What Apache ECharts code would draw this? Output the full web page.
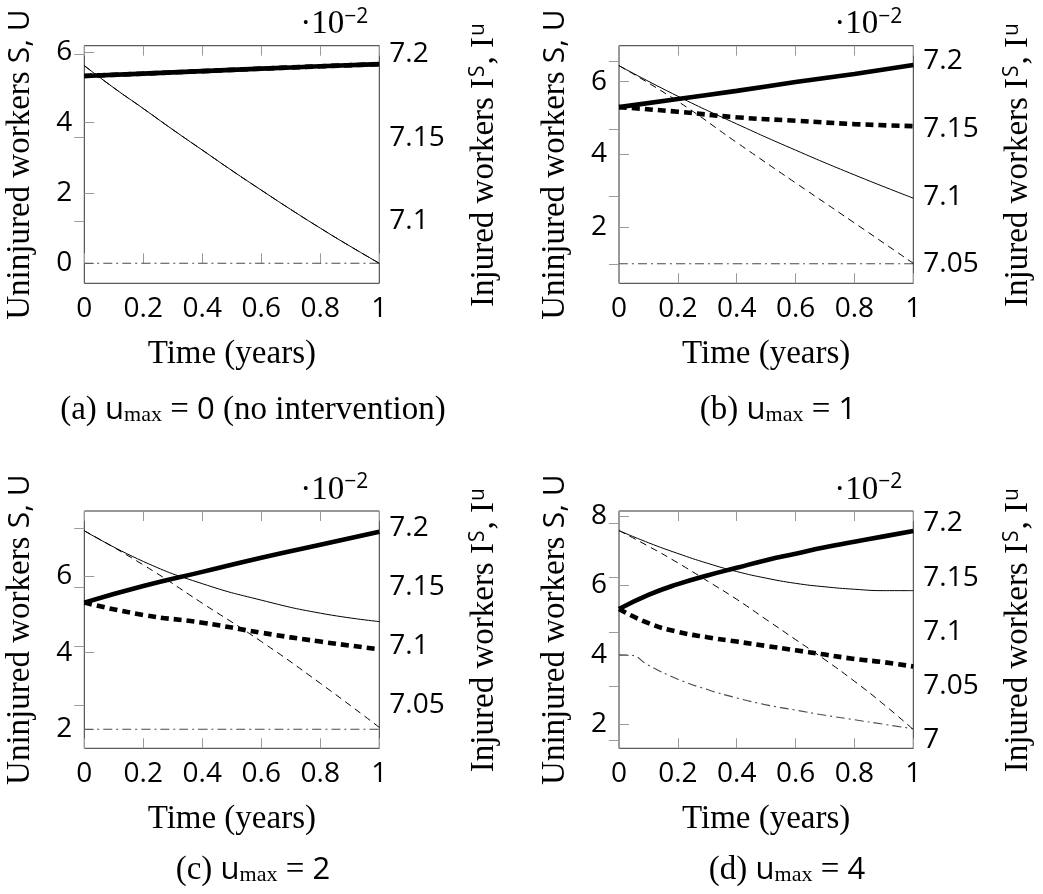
<!DOCTYPE html>
<html>
<head>
<meta charset="utf-8">
<script src="https://cdn.jsdelivr.net/npm/echarts@6/dist/echarts.min.js"></script>
<style>
html,body{margin:0;padding:0;background:#fff;}
#chart{width:1043px;height:894px;}
</style>
</head>
<body>
<div id="chart"></div>
<script>
// ---------- data ----------
const T6  = [0, 0.2, 0.4, 0.6, 0.8, 1];
const T11 = [0, 0.1, 0.2, 0.3, 0.4, 0.5, 0.6, 0.7, 0.8, 0.9, 1];
const TU_D = [0, 0.04, 0.1, 0.2, 0.3, 0.4, 0.5, 0.6, 0.7, 0.8, 0.9, 1];
const X_TICKS = [0, 0.2, 0.4, 0.6, 0.8, 1];

// (a) u_max = 0
const aS  = [5.62, 4.99, 4.40, 3.80, 3.22, 2.64, 2.08, 1.53, 1.00, 0.49, 0.00]; // T11
const aU  = [5.62, 4.99, 4.40, 3.80, 3.22, 2.64, 2.08, 1.53, 1.00, 0.49, 0.00]; // T11
const au  = [0, 0, 0, 0, 0, 0];                                                 // T6
const aIs = [7.1871, 7.1885, 7.1900, 7.1915, 7.1929, 7.1942];                   // T6
const aIu = [7.1871, 7.1885, 7.1900, 7.1915, 7.1929, 7.1942];                   // T6

// (b) u_max = 1
const bS  = [6.44, 5.60, 4.84, 4.12, 3.44, 2.80];
const bU  = [6.44, 5.46, 4.33, 3.22, 2.12, 1.01];
const bu  = [1, 1, 1, 1, 1, 1];
const bIs = [7.166, 7.172, 7.178, 7.1845, 7.1905, 7.197];
const bIu = [7.166, 7.1626, 7.1585, 7.156, 7.1535, 7.152];

// (c) u_max = 2
const cS  = [7.18, 6.38, 5.80, 5.37, 5.03, 4.81];
const cU  = [7.18, 6.29, 5.29, 4.29, 3.20, 2.05];
const cu  = [2, 2, 2, 2, 2, 2];
const cIs = [7.137, 7.151, 7.163, 7.175, 7.186, 7.197];
const cIu = [7.137, 7.1265, 7.120, 7.1115, 7.104, 7.0975];

// (d) u_max = 4
const dS  = [7.58, 7.23, 6.92, 6.64, 6.40, 6.21, 6.06, 5.96, 5.89, 5.85, 5.85];          // T11
const dU  = [7.58, 7.13, 6.65, 6.13, 5.60, 5.02, 4.44, 3.86, 3.24, 2.57, 1.85];          // T11
const du  = [4.0, 3.99, 3.70, 3.30, 3.00, 2.76, 2.56, 2.41, 2.26, 2.13, 2.00, 1.87];      // TU_D
const dIs = [7.121, 7.134, 7.144, 7.152, 7.159, 7.166, 7.172, 7.178, 7.183, 7.188, 7.193]; // T11
const dIu = [7.121, 7.108, 7.100, 7.095, 7.091, 7.087, 7.083, 7.079, 7.075, 7.072, 7.068]; // T11

// axis ranges & tick values
const leftRange  = [[-0.569, 6.188], [0.462, 6.989], [1.504, 7.696], [1.308, 8.144]];
const rightRange = [[7.0624, 7.2053], [7.0361, 7.2113], [7.0137, 7.2145], [6.9926, 7.2114]];
const leftTicks  = [[0, 2, 4, 6], [2, 4, 6], [2, 4, 6], [2, 4, 6, 8]];
const rightTicks = [[7.1, 7.15, 7.2], [7.05, 7.1, 7.15, 7.2], [7.05, 7.1, 7.15, 7.2], [7, 7.05, 7.1, 7.15, 7.2]];

const captionLetters = ['a', 'b', 'c', 'd'];
const captionValues  = ['0', '1', '2', '4'];
const captionExtra   = [' (no intervention)', '', '', ''];

// ---------- layout ----------
const grids = [
  {left: 84.3, top: 45.7, width: 295, height: 237.6},
  {left: 619,  top: 45.7, width: 294.3, height: 237.6},
  {left: 84.3, top: 511,  width: 295, height: 237.3},
  {left: 619,  top: 511,  width: 294.3, height: 237.3}
];
const captionPos = [[253, 410], [778, 410], [253, 870], [787, 870]];

const SERIF = '"Liberation Serif", "Times New Roman", serif';
const SANS  = '"Open Sans", "Noto Sans", sans-serif';

function pairs(ts, vs) { return ts.map((t, i) => [t, vs[i]]); }
function fmtNum(v) { return String(+(+v).toFixed(3)); }

const panels = [
  {S: [T11, aS], U: [T11, aU], u: [T6, au], Is: [T6, aIs], Iu: [T6, aIu]},
  {S: [T6, bS],  U: [T6, bU],  u: [T6, bu], Is: [T6, bIs], Iu: [T6, bIu]},
  {S: [T6, cS],  U: [T6, cU],  u: [T6, cu], Is: [T6, cIs], Iu: [T6, cIu]},
  {S: [T11, dS], U: [T11, dU], u: [TU_D, du], Is: [T11, dIs], Iu: [T11, dIu]}
];

const tickStyle = {inside: true, length: 10, lineStyle: {color: '#9a9a9a', width: 1}};

const xAxes = [], yAxes = [], series = [], graphics = [];
grids.forEach((g, i) => {
  xAxes.push({
    gridIndex: i, type: 'value', min: 0, max: 1, position: 'bottom',
    axisLine: {show: false}, splitLine: {show: false},
    axisTick: Object.assign({customValues: X_TICKS}, tickStyle),
    axisLabel: {customValues: X_TICKS, formatter: fmtNum, fontFamily: SANS, fontSize: 28, color: '#000', margin: 12},
    name: 'Time (years)', nameLocation: 'middle', nameGap: 55,
    nameTextStyle: {fontFamily: SERIF, fontSize: 33, color: '#000'}
  });
  xAxes.push({
    gridIndex: i, type: 'value', min: 0, max: 1, position: 'top',
    axisLine: {show: false}, splitLine: {show: false},
    axisTick: Object.assign({customValues: X_TICKS}, tickStyle),
    axisLabel: {show: false}
  });
  yAxes.push({
    gridIndex: i, type: 'value', min: leftRange[i][0], max: leftRange[i][1], position: 'left',
    axisLine: {show: false}, splitLine: {show: false},
    axisTick: Object.assign({customValues: leftTicks[i]}, tickStyle),
    axisLabel: {customValues: leftTicks[i], formatter: fmtNum, fontFamily: SANS, fontSize: 28, color: '#000', margin: 12},
    name: '{t|Uninjured workers }{m|S, U}', nameLocation: 'middle', nameRotate: 90, nameGap: 47,
    nameTextStyle: {
      rich: {
        t: {fontFamily: SERIF, fontSize: 33, color: '#000'},
        m: {fontFamily: SANS, fontSize: 30, color: '#000'}
      }
    }
  });
  yAxes.push({
    gridIndex: i, type: 'value', min: rightRange[i][0], max: rightRange[i][1], position: 'right',
    axisLine: {show: false}, splitLine: {show: false},
    axisTick: Object.assign({customValues: rightTicks[i]}, tickStyle),
    axisLabel: {customValues: rightTicks[i], formatter: fmtNum, fontFamily: SANS, fontSize: 28, color: '#000', margin: 10},
    name: '{t|Injured workers }{i|I}{s|S}{t|, }{i|I}{s|u}', nameLocation: 'middle', nameRotate: 90, nameGap: 88,
    nameTextStyle: {
      rich: {
        t: {fontFamily: SERIF, fontSize: 33, color: '#000'},
        i: {fontFamily: SERIF, fontSize: 33, color: '#000'},
        s: {fontFamily: SANS, fontSize: 21, color: '#000', verticalAlign: 'top', padding: [0, 1, 14, 1]}
      }
    }
  });

  const p = panels[i];
  const xi = i * 2, yl = i * 2, yr = i * 2 + 1;
  const base = {type: 'line', showSymbol: false, symbol: 'none', xAxisIndex: xi, animation: false, silent: true,
                smooth: true};
  series.push(Object.assign({}, base, {name: 'u', yAxisIndex: yl, data: pairs(p.u[0], p.u[1]),
    lineStyle: {color: '#4a4a4a', width: 1.1, type: [9, 4, 2, 4]}}));
  series.push(Object.assign({}, base, {name: 'U', yAxisIndex: yl, data: pairs(p.U[0], p.U[1]),
    lineStyle: {color: '#000', width: 1, type: [7, 5]}}));
  series.push(Object.assign({}, base, {name: 'S', yAxisIndex: yl, data: pairs(p.S[0], p.S[1]),
    lineStyle: {color: '#000', width: 1, type: 'solid'}}));
  series.push(Object.assign({}, base, {name: 'Iu', yAxisIndex: yr, data: pairs(p.Iu[0], p.Iu[1]),
    lineStyle: {color: '#000', width: 4.6, type: [8, 5]}}));
  series.push(Object.assign({}, base, {name: 'Is', yAxisIndex: yr, data: pairs(p.Is[0], p.Is[1]),
    lineStyle: {color: '#000', width: 4.6, type: 'solid'}}));

  // ·10^-2 multiplier
  graphics.push({
    type: 'text', x: g.left + g.width - 11, y: g.top - 21,
    style: {
      text: '{a|·10}{b|−2}', align: 'right', verticalAlign: 'middle',
      rich: {
        a: {fontFamily: SERIF, fontSize: 33, fill: '#000'},
        b: {fontFamily: SANS, fontSize: 21, fill: '#000', verticalAlign: 'top', padding: [0, 0, 16, 0]}
      }
    }
  });
  // caption
  graphics.push({
    type: 'text', x: captionPos[i][0], y: captionPos[i][1],
    style: {
      text: '{t|(' + captionLetters[i] + ') }{m|u}{s|max}{t| = }{n|' + captionValues[i] + '}' +
            (captionExtra[i] ? '{t|' + captionExtra[i] + '}' : ''),
      align: 'center', verticalAlign: 'middle',
      rich: {
        t: {fontFamily: SERIF, fontSize: 33, fill: '#000'},
        m: {fontFamily: SANS, fontSize: 31, fill: '#000'},
        s: {fontFamily: SERIF, fontSize: 22, fill: '#000', verticalAlign: 'bottom', padding: [10, 0, 0, 0]},
        n: {fontFamily: SANS, fontSize: 31, fill: '#000'}
      }
    }
  });
});

const chart = echarts.init(document.getElementById('chart'), null, {renderer: 'canvas'});
chart.setOption({
  animation: false,
  backgroundColor: '#fff',
  grid: grids.map(g => Object.assign({show: true, borderColor: '#333', borderWidth: 1, backgroundColor: 'transparent', containLabel: false}, g)),
  xAxis: xAxes,
  yAxis: yAxes,
  series: series,
  graphic: graphics
});
</script>
</body>
</html>
